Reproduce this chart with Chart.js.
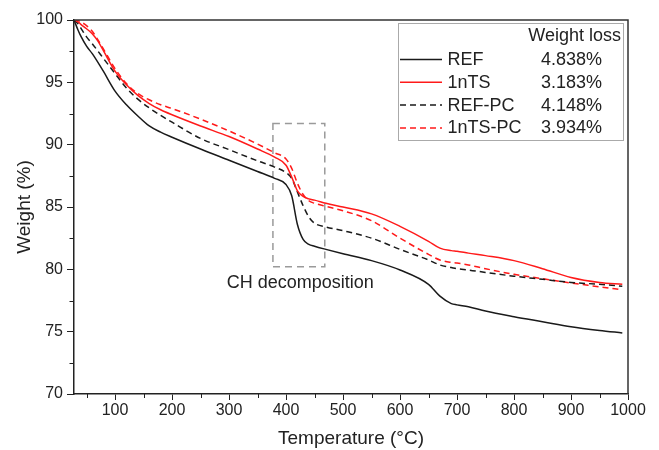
<!DOCTYPE html>
<html>
<head>
<meta charset="utf-8">
<script src="https://cdn.jsdelivr.net/npm/chart.js@4"></script>
<style>
  html, body { margin: 0; padding: 0; background: #fff; }
  #wrap { width: 659px; height: 450px; }
</style>
</head>
<body>
<div id="wrap"><canvas id="tgaChart" width="659" height="450"></canvas></div>
<script>
const temps = [28, 35, 40, 50, 60, 70, 80, 100, 120, 140, 160, 180, 200, 250, 300, 350, 380, 400, 410, 420, 430, 440, 450, 470, 500, 550, 600, 650, 670, 690, 700, 720, 750, 800, 850, 900, 950, 990];

const refW = [100, 99.2, 98.7, 97.9, 97.3, 96.6, 95.85, 94.3, 93.2, 92.3, 91.5, 91.0, 90.6, 89.65, 88.75, 87.85, 87.3, 86.8, 85.9, 83.6, 82.4, 82.0, 81.85, 81.6, 81.25, 80.7, 79.95, 78.8, 77.85, 77.25, 77.15, 77.0, 76.65, 76.2, 75.8, 75.4, 75.1, 74.9];
const nts1W = [100, 99.85, 99.65, 99.3, 98.9, 98.3, 97.5, 95.9, 94.8, 93.95, 93.3, 92.8, 92.4, 91.5, 90.65, 89.65, 89.0, 88.35, 87.4, 86.3, 85.85, 85.65, 85.55, 85.3, 85.0, 84.45, 83.45, 82.25, 81.7, 81.5, 81.45, 81.3, 81.1, 80.7, 80.05, 79.35, 78.95, 78.8];
const refPcW = [100, 99.7, 99.35, 98.65, 98.1, 97.5, 96.9, 95.7, 94.55, 93.65, 92.95, 92.35, 91.8, 90.5, 89.6, 88.7, 88.2, 87.75, 87.3, 86.2, 85.1, 84.2, 83.7, 83.4, 83.1, 82.5, 81.6, 80.75, 80.35, 80.15, 80.05, 79.95, 79.75, 79.45, 79.2, 78.95, 78.8, 78.65];
const nts1PcW = [100, 99.95, 99.85, 99.55, 99.1, 98.4, 97.65, 96.1, 94.9, 94.1, 93.6, 93.2, 92.9, 92.05, 91.1, 90.05, 89.35, 88.85, 88.1, 86.9, 86.0, 85.5, 85.3, 85.05, 84.7, 83.9, 82.5, 81.2, 80.75, 80.55, 80.5, 80.35, 80.05, 79.6, 79.25, 78.9, 78.6, 78.35];

const seriesNames = ["REF", "1nTS", "REF-PC", "1nTS-PC"];
const weightLoss = ["4.838%", "3.183%", "4.148%", "3.934%"];
const xTicks = [100, 200, 300, 400, 500, 600, 700, 800, 900, 1000];
const yTicks = [70, 75, 80, 85, 90, 95, 100];

// CH decomposition box (temperature / weight range)
const boxT = [377, 468];
const boxW = [80.2, 91.7];

const FONT = "'Liberation Sans', Arial, sans-serif";
const colors = ["#1a1a1a", "#ff1a1a", "#1a1a1a", "#ff1a1a"];
const dashes = [[], [], [6, 4], [6, 4]];

const toPoints = (w) => temps.map((t, i) => ({ x: t, y: w[i] }));

const extras = {
  id: "extras",
  beforeDatasetsDraw(chart) {
    const { ctx, scales: { x, y } } = chart;
    ctx.save();
    ctx.strokeStyle = "#9a9a9a";
    ctx.lineWidth = 1.5;
    ctx.setLineDash([7, 5]);
    const x0 = x.getPixelForValue(boxT[0]), x1 = x.getPixelForValue(boxT[1]);
    const y0 = y.getPixelForValue(boxW[1]), y1 = y.getPixelForValue(boxW[0]);
    ctx.strokeRect(x0, y0, x1 - x0, y1 - y0);
    ctx.restore();
  },
  afterDraw(chart) {
    const { ctx, chartArea: a, scales: { x, y } } = chart;
    ctx.save();
    // frame top / right
    ctx.strokeStyle = "#333";
    ctx.lineWidth = 1.5;
    ctx.beginPath();
    ctx.moveTo(a.left, a.top);
    ctx.lineTo(a.right, a.top);
    ctx.lineTo(a.right, a.bottom);
    ctx.stroke();

    // minor ticks
    ctx.strokeStyle = "#222";
    ctx.lineWidth = 1;
    ctx.beginPath();
    for (let t = 50; t < 1000; t += 100) {
      const px = Math.round(x.getPixelForValue(t)) + 0.5;
      ctx.moveTo(px, a.bottom);
      ctx.lineTo(px, a.bottom + 4);
    }
    for (let w = 72.5; w < 100; w += 5) {
      const py = Math.round(y.getPixelForValue(w)) + 0.5;
      ctx.moveTo(a.left, py);
      ctx.lineTo(a.left - 4.5, py);
    }
    ctx.stroke();

    // annotation text
    ctx.fillStyle = "#222";
    ctx.font = "18px " + FONT;
    ctx.textAlign = "center";
    ctx.textBaseline = "alphabetic";
    ctx.fillText("CH decomposition", x.getPixelForValue(425), y.getPixelForValue(78.5));

    // legend
    const lx = a.right - 230, ly = a.top + 3;
    ctx.fillStyle = "#fff";
    ctx.fillRect(lx, ly, 225, 117);
    ctx.strokeStyle = "#aaa";
    ctx.lineWidth = 1;
    ctx.strokeRect(lx + 0.5, ly + 0.5, 225, 117);
    ctx.fillStyle = "#222";
    ctx.font = "18px " + FONT;
    ctx.textAlign = "right";
    ctx.fillText("Weight loss", lx + 223, ly + 18);
    seriesNames.forEach((name, i) => {
      const base = ly + 42 + i * 22.8;
      ctx.strokeStyle = colors[i];
      ctx.lineWidth = 1.5;
      ctx.setLineDash(dashes[i]);
      ctx.beginPath();
      ctx.moveTo(lx + 2, base - 5.5);
      ctx.lineTo(lx + 44, base - 5.5);
      ctx.stroke();
      ctx.setLineDash([]);
      ctx.textAlign = "left";
      ctx.fillStyle = "#222";
      ctx.fillText(name, lx + 49.5, base);
      ctx.fillText(weightLoss[i], lx + 143, base);
    });
    ctx.restore();
  }
};

new Chart(document.getElementById("tgaChart"), {
  type: "line",
  data: {
    datasets: [refW, nts1W, refPcW, nts1PcW].map((w, i) => ({
      label: seriesNames[i],
      data: toPoints(w),
      borderColor: colors[i],
      borderWidth: 1.5,
      borderDash: dashes[i],
      pointRadius: 0,
      fill: false,
      cubicInterpolationMode: "monotone",
    })),
  },
  options: {
    responsive: false,
    animation: false,
    layout: { padding: { top: 20, right: 31, left: 0, bottom: 0 } },
    plugins: { legend: { display: false }, tooltip: { enabled: false } },
    scales: {
      x: {
        type: "linear",
        min: 28,
        max: 1000,
        afterBuildTicks: (s) => { s.ticks = xTicks.map((v) => ({ value: v })); },
        afterFit: (s) => { s.height = 56; },
        grid: { display: true, drawOnChartArea: false, tickLength: 6, tickColor: "#222", tickWidth: 1 },
        border: { display: true, color: "#222", width: 1.5 },
        ticks: { color: "#222", font: { family: FONT, size: 16 }, padding: 1, maxRotation: 0, callback: (v) => String(v) },
        title: { display: true, text: "Temperature (°C)", color: "#222", font: { family: FONT, size: 19 }, padding: { top: 0, bottom: 0 } },
      },
      y: {
        min: 70,
        max: 100,
        afterBuildTicks: (s) => { s.ticks = yTicks.map((v) => ({ value: v })); },
        afterFit: (s) => { s.width = 74; },
        grid: { display: true, drawOnChartArea: false, tickLength: 7, tickColor: "#222", tickWidth: 1 },
        border: { display: true, color: "#222", width: 1.5 },
        ticks: { color: "#222", font: { family: FONT, size: 16 }, padding: 4, callback: (v) => String(v) },
        title: { display: true, text: "Weight (%)", color: "#222", font: { family: FONT, size: 19 }, padding: { top: 13, bottom: 0 } },
      },
    },
  },
  plugins: [extras],
});
</script>
</body>
</html>
